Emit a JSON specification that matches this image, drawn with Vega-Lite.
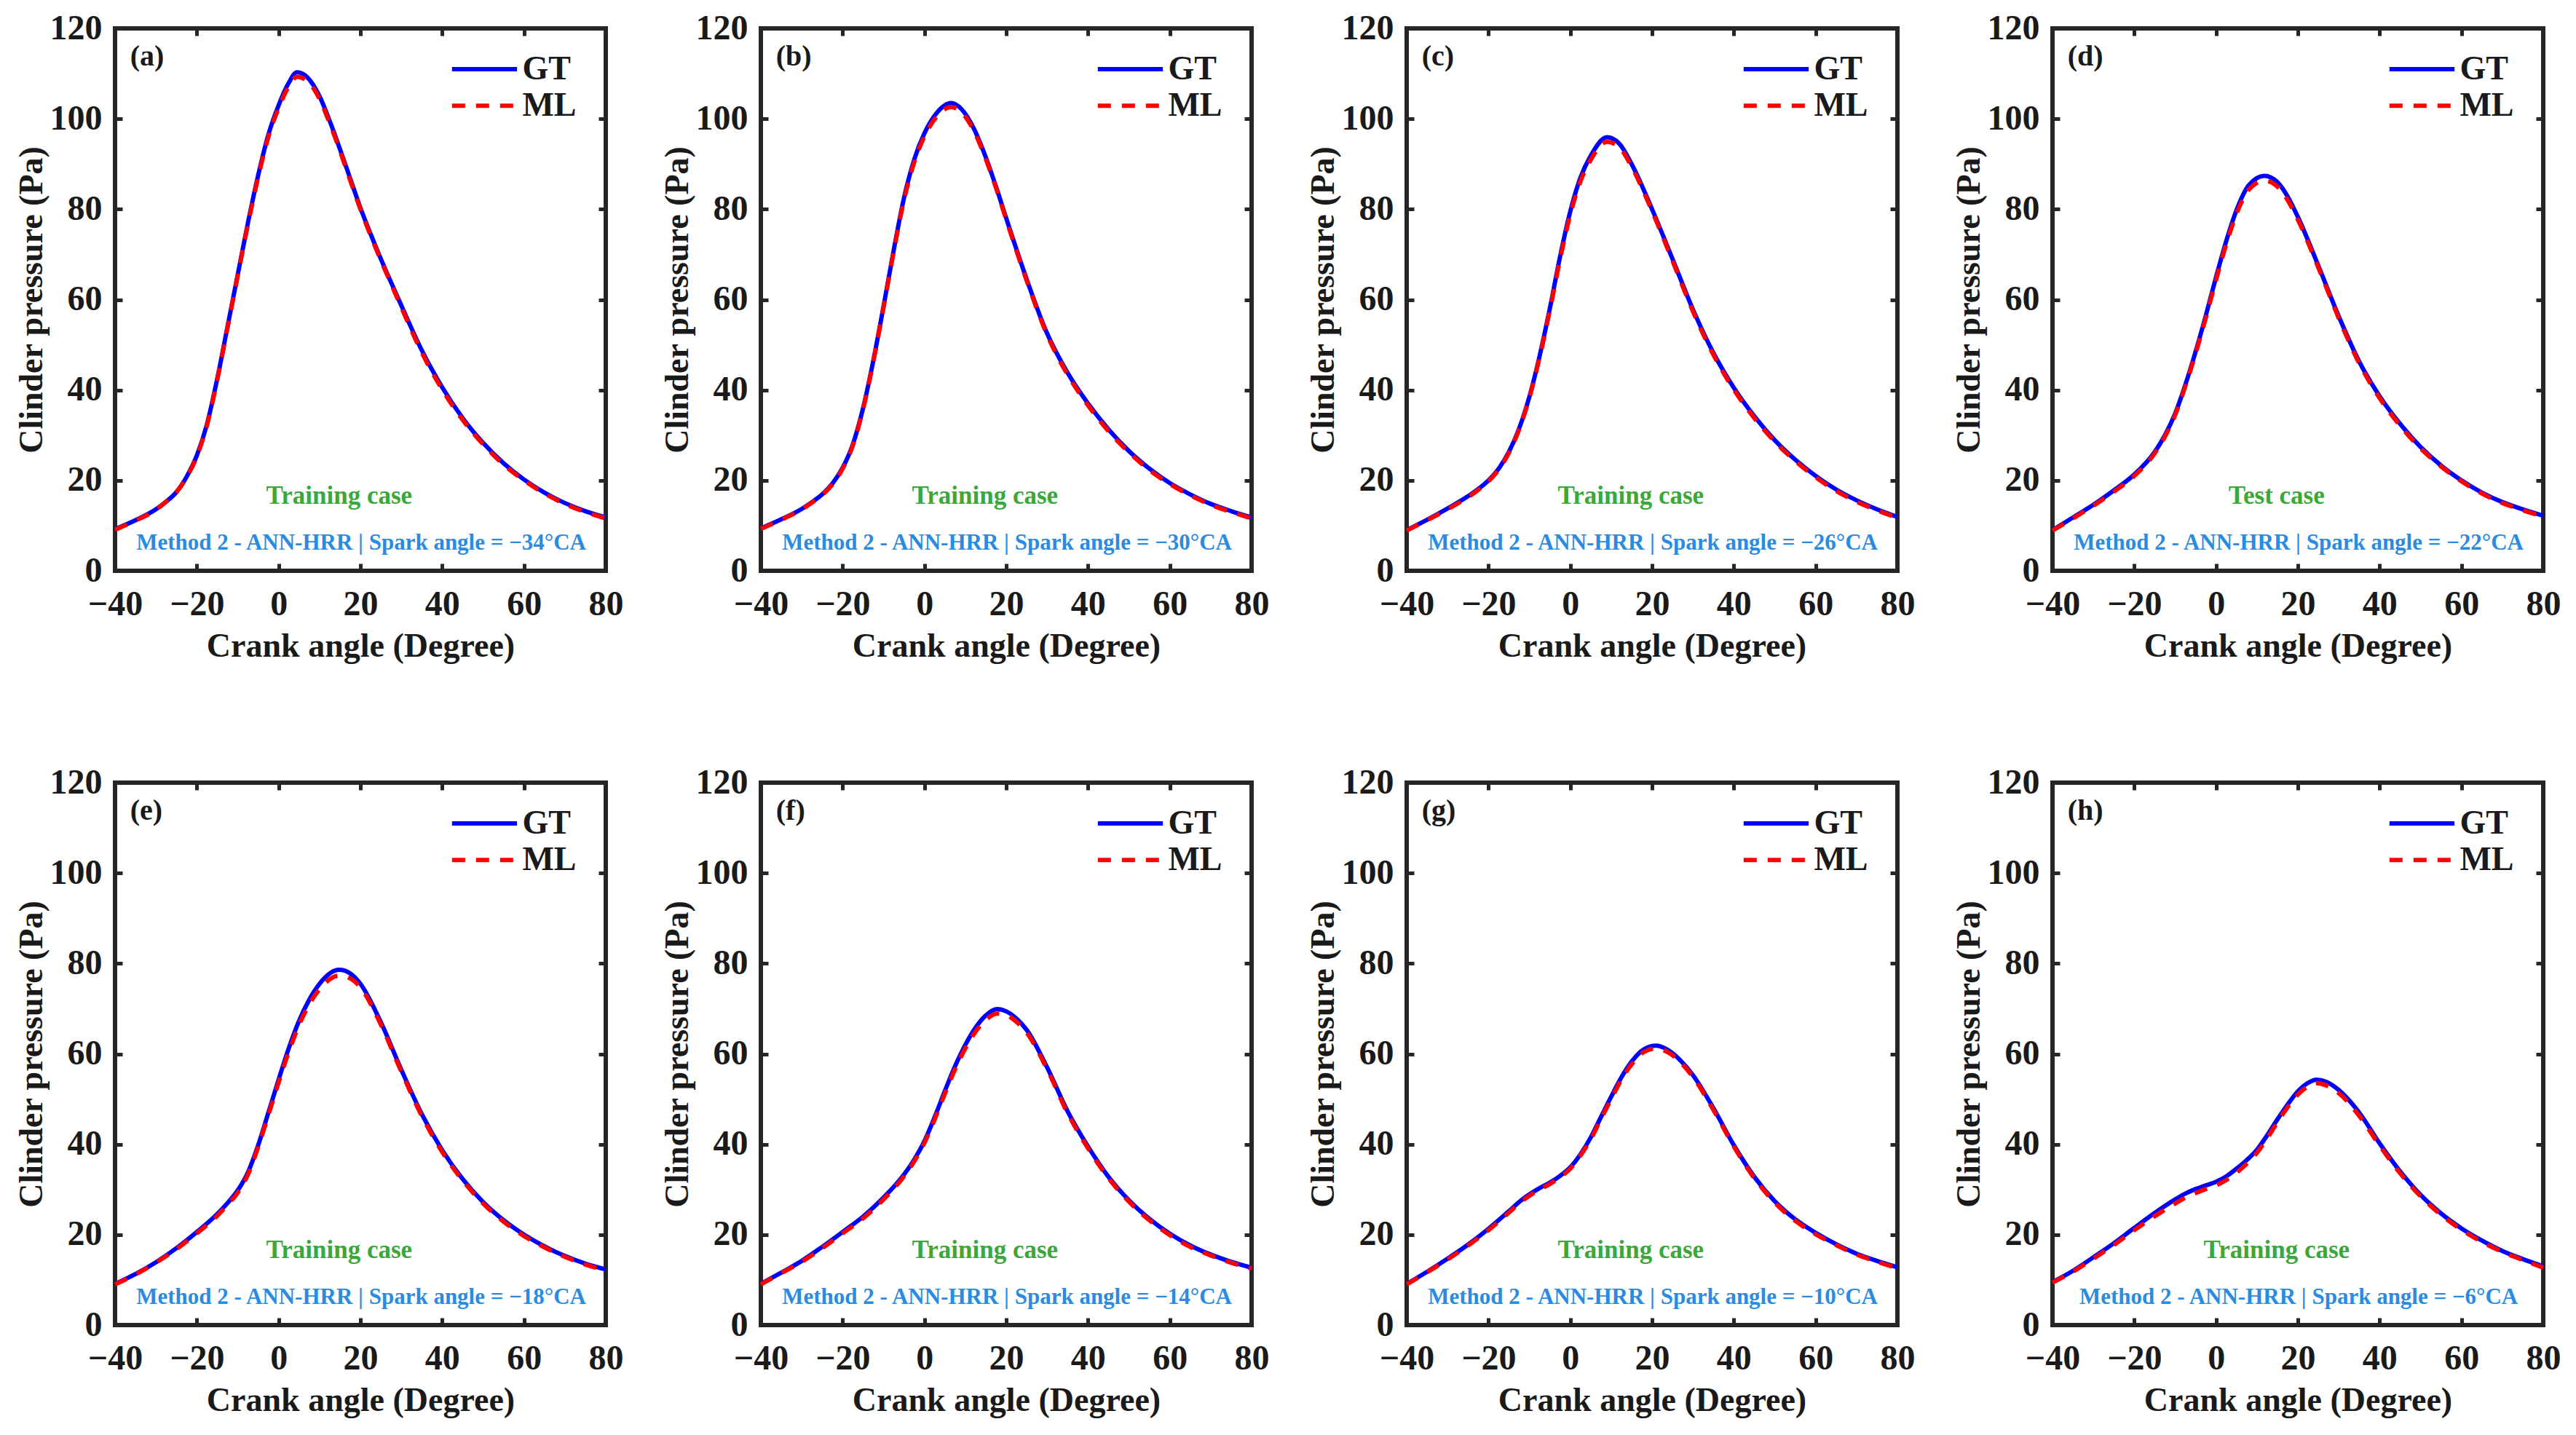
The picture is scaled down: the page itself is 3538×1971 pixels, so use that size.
{
  "$schema": "https://vega.github.io/schema/vega-lite/v6.json",
  "background": "white",
  "padding": {"left": 17, "top": 12, "right": 0, "bottom": 0},
  "data": {
    "values": [
      {"p": "a", "lab": "(a)", "kase": "Training case", "note": "Method 2 - ANN-HRR | Spark angle = −34°CA"},
      {"p": "b", "lab": "(b)", "kase": "Training case", "note": "Method 2 - ANN-HRR | Spark angle = −30°CA"},
      {"p": "c", "lab": "(c)", "kase": "Training case", "note": "Method 2 - ANN-HRR | Spark angle = −26°CA"},
      {"p": "d", "lab": "(d)", "kase": "Test case", "note": "Method 2 - ANN-HRR | Spark angle = −22°CA"},
      {"p": "e", "lab": "(e)", "kase": "Training case", "note": "Method 2 - ANN-HRR | Spark angle = −18°CA"},
      {"p": "f", "lab": "(f)", "kase": "Training case", "note": "Method 2 - ANN-HRR | Spark angle = −14°CA"},
      {"p": "g", "lab": "(g)", "kase": "Training case", "note": "Method 2 - ANN-HRR | Spark angle = −10°CA"},
      {"p": "h", "lab": "(h)", "kase": "Training case", "note": "Method 2 - ANN-HRR | Spark angle = −6°CA"},

      {"p": "a", "x": -40, "gt": 9.2, "ml": 9.1},
      {"p": "a", "x": -35, "gt": 11.2, "ml": 11.1},
      {"p": "a", "x": -30, "gt": 13.6, "ml": 13.5},
      {"p": "a", "x": -27.5, "gt": 15.3, "ml": 15.3},
      {"p": "a", "x": -25, "gt": 17.4, "ml": 17.4},
      {"p": "a", "x": -22.5, "gt": 20.8, "ml": 20.7},
      {"p": "a", "x": -20, "gt": 25.5, "ml": 25.3},
      {"p": "a", "x": -17.5, "gt": 32.5, "ml": 32.3},
      {"p": "a", "x": -15, "gt": 42.5, "ml": 42.3},
      {"p": "a", "x": -12.5, "gt": 54, "ml": 53.8},
      {"p": "a", "x": -10, "gt": 65.5, "ml": 65.3},
      {"p": "a", "x": -7.5, "gt": 77, "ml": 76.7},
      {"p": "a", "x": -5, "gt": 87.5, "ml": 87.1},
      {"p": "a", "x": -2.5, "gt": 96.5, "ml": 96},
      {"p": "a", "x": 0, "gt": 103, "ml": 102.4},
      {"p": "a", "x": 2.5, "gt": 108, "ml": 107.2},
      {"p": "a", "x": 4.5, "gt": 110.3, "ml": 109.3},
      {"p": "a", "x": 7, "gt": 109.2, "ml": 108.4},
      {"p": "a", "x": 10, "gt": 105, "ml": 104.4},
      {"p": "a", "x": 12.5, "gt": 99.5, "ml": 99},
      {"p": "a", "x": 15, "gt": 93.3, "ml": 92.9},
      {"p": "a", "x": 17.5, "gt": 86.8, "ml": 86.4},
      {"p": "a", "x": 20, "gt": 80.3, "ml": 80},
      {"p": "a", "x": 22.5, "gt": 74.5, "ml": 74.2},
      {"p": "a", "x": 25, "gt": 69, "ml": 68.7},
      {"p": "a", "x": 27.5, "gt": 63.8, "ml": 63.5},
      {"p": "a", "x": 30, "gt": 58.7, "ml": 58.3},
      {"p": "a", "x": 35, "gt": 48.8, "ml": 48.3},
      {"p": "a", "x": 40, "gt": 40.6, "ml": 40.1},
      {"p": "a", "x": 45, "gt": 33.8, "ml": 33.4},
      {"p": "a", "x": 50, "gt": 28.3, "ml": 28},
      {"p": "a", "x": 55, "gt": 23.8, "ml": 23.5},
      {"p": "a", "x": 60, "gt": 20.2, "ml": 20},
      {"p": "a", "x": 65, "gt": 17.3, "ml": 17.1},
      {"p": "a", "x": 70, "gt": 15, "ml": 14.8},
      {"p": "a", "x": 75, "gt": 13.2, "ml": 13},
      {"p": "a", "x": 80, "gt": 11.8, "ml": 11.6},

      {"p": "b", "x": -40, "gt": 9.4, "ml": 9.3},
      {"p": "b", "x": -35, "gt": 11.4, "ml": 11.3},
      {"p": "b", "x": -30, "gt": 13.7, "ml": 13.6},
      {"p": "b", "x": -27.5, "gt": 15.2, "ml": 15.1},
      {"p": "b", "x": -25, "gt": 16.9, "ml": 16.8},
      {"p": "b", "x": -22.5, "gt": 19.3, "ml": 19.1},
      {"p": "b", "x": -20, "gt": 22.8, "ml": 22.6},
      {"p": "b", "x": -17.5, "gt": 28, "ml": 27.8},
      {"p": "b", "x": -15, "gt": 36, "ml": 35.8},
      {"p": "b", "x": -12.5, "gt": 46.5, "ml": 46.3},
      {"p": "b", "x": -10, "gt": 58.5, "ml": 58.3},
      {"p": "b", "x": -7.5, "gt": 71, "ml": 70.7},
      {"p": "b", "x": -5, "gt": 82.5, "ml": 82},
      {"p": "b", "x": -2.5, "gt": 91, "ml": 90.4},
      {"p": "b", "x": 0, "gt": 96.8, "ml": 96.1},
      {"p": "b", "x": 3, "gt": 101.3, "ml": 100.5},
      {"p": "b", "x": 6.5, "gt": 103.5, "ml": 102.6},
      {"p": "b", "x": 9, "gt": 102.2, "ml": 101.5},
      {"p": "b", "x": 12, "gt": 98, "ml": 97.5},
      {"p": "b", "x": 15, "gt": 91.5, "ml": 91.1},
      {"p": "b", "x": 17.5, "gt": 85, "ml": 84.7},
      {"p": "b", "x": 20, "gt": 78, "ml": 77.7},
      {"p": "b", "x": 25, "gt": 64.5, "ml": 64.2},
      {"p": "b", "x": 30, "gt": 52.5, "ml": 52.2},
      {"p": "b", "x": 35, "gt": 43.8, "ml": 43.4},
      {"p": "b", "x": 40, "gt": 37, "ml": 36.6},
      {"p": "b", "x": 45, "gt": 31.3, "ml": 30.9},
      {"p": "b", "x": 50, "gt": 26.5, "ml": 26.2},
      {"p": "b", "x": 55, "gt": 22.6, "ml": 22.3},
      {"p": "b", "x": 60, "gt": 19.4, "ml": 19.2},
      {"p": "b", "x": 65, "gt": 16.9, "ml": 16.7},
      {"p": "b", "x": 70, "gt": 14.8, "ml": 14.6},
      {"p": "b", "x": 75, "gt": 13.2, "ml": 13},
      {"p": "b", "x": 80, "gt": 11.8, "ml": 11.6},

      {"p": "c", "x": -40, "gt": 9, "ml": 8.9},
      {"p": "c", "x": -35, "gt": 11.3, "ml": 11.2},
      {"p": "c", "x": -30, "gt": 13.8, "ml": 13.6},
      {"p": "c", "x": -25, "gt": 16.5, "ml": 16.3},
      {"p": "c", "x": -22.5, "gt": 18.1, "ml": 17.9},
      {"p": "c", "x": -20, "gt": 20, "ml": 19.8},
      {"p": "c", "x": -17.5, "gt": 22.6, "ml": 22.4},
      {"p": "c", "x": -15, "gt": 26.3, "ml": 26.1},
      {"p": "c", "x": -12.5, "gt": 31.5, "ml": 31.3},
      {"p": "c", "x": -10, "gt": 38.5, "ml": 38.3},
      {"p": "c", "x": -7.5, "gt": 47.5, "ml": 47.2},
      {"p": "c", "x": -5, "gt": 58, "ml": 57.6},
      {"p": "c", "x": -2.5, "gt": 69.5, "ml": 68.9},
      {"p": "c", "x": 0, "gt": 79.5, "ml": 78.8},
      {"p": "c", "x": 2.5, "gt": 87, "ml": 86.2},
      {"p": "c", "x": 5, "gt": 91.8, "ml": 90.9},
      {"p": "c", "x": 9, "gt": 95.9, "ml": 94.9},
      {"p": "c", "x": 12, "gt": 94.5, "ml": 93.7},
      {"p": "c", "x": 15, "gt": 90, "ml": 89.4},
      {"p": "c", "x": 20, "gt": 80, "ml": 79.6},
      {"p": "c", "x": 25, "gt": 69, "ml": 68.6},
      {"p": "c", "x": 30, "gt": 57.8, "ml": 57.4},
      {"p": "c", "x": 35, "gt": 48.2, "ml": 47.8},
      {"p": "c", "x": 40, "gt": 40.5, "ml": 40.1},
      {"p": "c", "x": 45, "gt": 34.2, "ml": 33.8},
      {"p": "c", "x": 50, "gt": 28.9, "ml": 28.6},
      {"p": "c", "x": 55, "gt": 24.6, "ml": 24.3},
      {"p": "c", "x": 60, "gt": 21, "ml": 20.7},
      {"p": "c", "x": 65, "gt": 18, "ml": 17.7},
      {"p": "c", "x": 70, "gt": 15.6, "ml": 15.3},
      {"p": "c", "x": 75, "gt": 13.6, "ml": 13.4},
      {"p": "c", "x": 80, "gt": 11.9, "ml": 11.7},

      {"p": "d", "x": -40, "gt": 9, "ml": 8.9},
      {"p": "d", "x": -35, "gt": 11.8, "ml": 11.6},
      {"p": "d", "x": -30, "gt": 14.6, "ml": 14.4},
      {"p": "d", "x": -25, "gt": 17.8, "ml": 17.5},
      {"p": "d", "x": -20, "gt": 21.3, "ml": 21},
      {"p": "d", "x": -15, "gt": 26.3, "ml": 26},
      {"p": "d", "x": -12.5, "gt": 30, "ml": 29.7},
      {"p": "d", "x": -10, "gt": 34.8, "ml": 34.5},
      {"p": "d", "x": -7.5, "gt": 41.2, "ml": 40.9},
      {"p": "d", "x": -5, "gt": 48.5, "ml": 48.1},
      {"p": "d", "x": -2.5, "gt": 56.5, "ml": 56},
      {"p": "d", "x": 0, "gt": 65, "ml": 64.4},
      {"p": "d", "x": 2.5, "gt": 73, "ml": 72.3},
      {"p": "d", "x": 5, "gt": 79.8, "ml": 79},
      {"p": "d", "x": 8, "gt": 85.3, "ml": 84.3},
      {"p": "d", "x": 11.8, "gt": 87.4, "ml": 86.3},
      {"p": "d", "x": 15, "gt": 86, "ml": 85},
      {"p": "d", "x": 17.5, "gt": 82.8, "ml": 82},
      {"p": "d", "x": 20, "gt": 78.3, "ml": 77.7},
      {"p": "d", "x": 25, "gt": 67.5, "ml": 67.1},
      {"p": "d", "x": 30, "gt": 56.3, "ml": 55.9},
      {"p": "d", "x": 35, "gt": 46.3, "ml": 45.9},
      {"p": "d", "x": 40, "gt": 38.6, "ml": 38.2},
      {"p": "d", "x": 45, "gt": 32.5, "ml": 32.1},
      {"p": "d", "x": 50, "gt": 27.4, "ml": 27.1},
      {"p": "d", "x": 55, "gt": 23.3, "ml": 23.1},
      {"p": "d", "x": 60, "gt": 20, "ml": 19.8},
      {"p": "d", "x": 65, "gt": 17.3, "ml": 17.1},
      {"p": "d", "x": 70, "gt": 15.2, "ml": 15},
      {"p": "d", "x": 75, "gt": 13.6, "ml": 13.4},
      {"p": "d", "x": 80, "gt": 12.2, "ml": 12},

      {"p": "e", "x": -40, "gt": 9.1, "ml": 9},
      {"p": "e", "x": -35, "gt": 11.3, "ml": 11.2},
      {"p": "e", "x": -30, "gt": 13.9, "ml": 13.8},
      {"p": "e", "x": -25, "gt": 17, "ml": 16.8},
      {"p": "e", "x": -20, "gt": 20.6, "ml": 20.3},
      {"p": "e", "x": -15, "gt": 24.6, "ml": 24.2},
      {"p": "e", "x": -12.5, "gt": 27, "ml": 26.6},
      {"p": "e", "x": -10, "gt": 29.8, "ml": 29.3},
      {"p": "e", "x": -7.5, "gt": 33.8, "ml": 33.3},
      {"p": "e", "x": -5, "gt": 39.8, "ml": 39.4},
      {"p": "e", "x": -2.5, "gt": 47, "ml": 46.5},
      {"p": "e", "x": 0, "gt": 54.3, "ml": 53.7},
      {"p": "e", "x": 2.5, "gt": 61.3, "ml": 60.5},
      {"p": "e", "x": 5, "gt": 67.3, "ml": 66.4},
      {"p": "e", "x": 7.5, "gt": 72, "ml": 71},
      {"p": "e", "x": 10, "gt": 75.5, "ml": 74.3},
      {"p": "e", "x": 14.8, "gt": 78.6, "ml": 77.3},
      {"p": "e", "x": 17.5, "gt": 77.8, "ml": 76.7},
      {"p": "e", "x": 20, "gt": 75.5, "ml": 74.7},
      {"p": "e", "x": 25, "gt": 67, "ml": 66.5},
      {"p": "e", "x": 30, "gt": 56.5, "ml": 56.1},
      {"p": "e", "x": 35, "gt": 46.7, "ml": 46.3},
      {"p": "e", "x": 40, "gt": 38.7, "ml": 38.3},
      {"p": "e", "x": 45, "gt": 32.3, "ml": 32},
      {"p": "e", "x": 50, "gt": 27.2, "ml": 26.9},
      {"p": "e", "x": 55, "gt": 23.2, "ml": 22.9},
      {"p": "e", "x": 60, "gt": 20, "ml": 19.7},
      {"p": "e", "x": 65, "gt": 17.4, "ml": 17.2},
      {"p": "e", "x": 70, "gt": 15.3, "ml": 15.1},
      {"p": "e", "x": 75, "gt": 13.6, "ml": 13.4},
      {"p": "e", "x": 80, "gt": 12.3, "ml": 12.1},

      {"p": "f", "x": -40, "gt": 9.1, "ml": 9},
      {"p": "f", "x": -35, "gt": 11.6, "ml": 11.5},
      {"p": "f", "x": -30, "gt": 14.2, "ml": 14},
      {"p": "f", "x": -25, "gt": 17.3, "ml": 17},
      {"p": "f", "x": -20, "gt": 20.6, "ml": 20.3},
      {"p": "f", "x": -15, "gt": 24, "ml": 23.6},
      {"p": "f", "x": -10, "gt": 28.2, "ml": 27.8},
      {"p": "f", "x": -5, "gt": 33.3, "ml": 32.9},
      {"p": "f", "x": -2.5, "gt": 36.6, "ml": 36.2},
      {"p": "f", "x": 0, "gt": 40.7, "ml": 40.3},
      {"p": "f", "x": 2.5, "gt": 46, "ml": 45.5},
      {"p": "f", "x": 5, "gt": 51.8, "ml": 51.2},
      {"p": "f", "x": 7.5, "gt": 57.3, "ml": 56.6},
      {"p": "f", "x": 10, "gt": 62, "ml": 61.2},
      {"p": "f", "x": 12.5, "gt": 65.8, "ml": 64.9},
      {"p": "f", "x": 15, "gt": 68.5, "ml": 67.5},
      {"p": "f", "x": 17.8, "gt": 69.9, "ml": 68.9},
      {"p": "f", "x": 20, "gt": 69.4, "ml": 68.6},
      {"p": "f", "x": 22.5, "gt": 67.8, "ml": 67.1},
      {"p": "f", "x": 25, "gt": 65.3, "ml": 64.7},
      {"p": "f", "x": 30, "gt": 57, "ml": 56.6},
      {"p": "f", "x": 35, "gt": 47.3, "ml": 46.9},
      {"p": "f", "x": 40, "gt": 39.5, "ml": 39.1},
      {"p": "f", "x": 45, "gt": 32.8, "ml": 32.5},
      {"p": "f", "x": 50, "gt": 27.6, "ml": 27.3},
      {"p": "f", "x": 55, "gt": 23.5, "ml": 23.2},
      {"p": "f", "x": 60, "gt": 20.2, "ml": 19.9},
      {"p": "f", "x": 65, "gt": 17.6, "ml": 17.3},
      {"p": "f", "x": 70, "gt": 15.6, "ml": 15.4},
      {"p": "f", "x": 75, "gt": 14, "ml": 13.8},
      {"p": "f", "x": 80, "gt": 12.7, "ml": 12.5},

      {"p": "g", "x": -40, "gt": 9.1, "ml": 9},
      {"p": "g", "x": -35, "gt": 11.8, "ml": 11.7},
      {"p": "g", "x": -30, "gt": 14.7, "ml": 14.5},
      {"p": "g", "x": -25, "gt": 17.8, "ml": 17.6},
      {"p": "g", "x": -20, "gt": 21.3, "ml": 21},
      {"p": "g", "x": -15, "gt": 25.2, "ml": 24.9},
      {"p": "g", "x": -12, "gt": 27.6, "ml": 27.3},
      {"p": "g", "x": -10, "gt": 28.9, "ml": 28.6},
      {"p": "g", "x": -7.5, "gt": 30.3, "ml": 30},
      {"p": "g", "x": -5, "gt": 31.5, "ml": 31.2},
      {"p": "g", "x": -2.5, "gt": 33, "ml": 32.7},
      {"p": "g", "x": 0, "gt": 34.9, "ml": 34.6},
      {"p": "g", "x": 2.5, "gt": 37.8, "ml": 37.5},
      {"p": "g", "x": 5, "gt": 41.5, "ml": 41.1},
      {"p": "g", "x": 7.5, "gt": 46, "ml": 45.6},
      {"p": "g", "x": 10, "gt": 50.5, "ml": 50},
      {"p": "g", "x": 12.5, "gt": 54.8, "ml": 54.3},
      {"p": "g", "x": 15, "gt": 58.3, "ml": 57.7},
      {"p": "g", "x": 18, "gt": 61, "ml": 60.4},
      {"p": "g", "x": 21, "gt": 61.8, "ml": 61.2},
      {"p": "g", "x": 24, "gt": 60.8, "ml": 60.3},
      {"p": "g", "x": 27, "gt": 58.5, "ml": 58.1},
      {"p": "g", "x": 30, "gt": 55.3, "ml": 54.9},
      {"p": "g", "x": 35, "gt": 48, "ml": 47.6},
      {"p": "g", "x": 40, "gt": 39.8, "ml": 39.5},
      {"p": "g", "x": 45, "gt": 32.8, "ml": 32.5},
      {"p": "g", "x": 50, "gt": 27.4, "ml": 27.1},
      {"p": "g", "x": 55, "gt": 23.4, "ml": 23.1},
      {"p": "g", "x": 60, "gt": 20.4, "ml": 20.1},
      {"p": "g", "x": 65, "gt": 17.9, "ml": 17.7},
      {"p": "g", "x": 70, "gt": 15.8, "ml": 15.6},
      {"p": "g", "x": 75, "gt": 14.2, "ml": 14},
      {"p": "g", "x": 80, "gt": 12.8, "ml": 12.6},

      {"p": "h", "x": -40, "gt": 9.5, "ml": 9.4},
      {"p": "h", "x": -35, "gt": 12, "ml": 11.8},
      {"p": "h", "x": -30, "gt": 15, "ml": 14.7},
      {"p": "h", "x": -25, "gt": 18.1, "ml": 17.7},
      {"p": "h", "x": -20, "gt": 21.5, "ml": 21},
      {"p": "h", "x": -15, "gt": 24.8, "ml": 24.1},
      {"p": "h", "x": -10, "gt": 27.8, "ml": 26.9},
      {"p": "h", "x": -7.5, "gt": 29.1, "ml": 28.2},
      {"p": "h", "x": -5, "gt": 30.1, "ml": 29.2},
      {"p": "h", "x": -2.5, "gt": 30.9, "ml": 30.1},
      {"p": "h", "x": 0, "gt": 31.7, "ml": 30.9},
      {"p": "h", "x": 2.5, "gt": 32.9, "ml": 32.1},
      {"p": "h", "x": 5, "gt": 34.6, "ml": 33.7},
      {"p": "h", "x": 7.5, "gt": 36.5, "ml": 35.7},
      {"p": "h", "x": 10, "gt": 38.8, "ml": 38.1},
      {"p": "h", "x": 12.5, "gt": 42, "ml": 41.3},
      {"p": "h", "x": 15, "gt": 45.5, "ml": 44.9},
      {"p": "h", "x": 17.5, "gt": 48.8, "ml": 48.2},
      {"p": "h", "x": 20, "gt": 51.7, "ml": 51},
      {"p": "h", "x": 22.5, "gt": 53.6, "ml": 52.8},
      {"p": "h", "x": 24.5, "gt": 54.3, "ml": 53.5},
      {"p": "h", "x": 27, "gt": 53.8, "ml": 53},
      {"p": "h", "x": 30, "gt": 52, "ml": 51.3},
      {"p": "h", "x": 35, "gt": 47, "ml": 46.3},
      {"p": "h", "x": 40, "gt": 40.2, "ml": 39.7},
      {"p": "h", "x": 45, "gt": 34, "ml": 33.6},
      {"p": "h", "x": 50, "gt": 28.8, "ml": 28.5},
      {"p": "h", "x": 55, "gt": 24.7, "ml": 24.4},
      {"p": "h", "x": 60, "gt": 21.4, "ml": 21.1},
      {"p": "h", "x": 65, "gt": 18.7, "ml": 18.4},
      {"p": "h", "x": 70, "gt": 16.4, "ml": 16.2},
      {"p": "h", "x": 75, "gt": 14.6, "ml": 14.4},
      {"p": "h", "x": 80, "gt": 13, "ml": 12.7}
    ]
  },
  "facet": {
    "field": "p",
    "type": "nominal",
    "title": null,
    "header": {
      "title": null,
      "labels": false,
      "labelOrient": "bottom",
      "labelColor": "white",
      "labelFontSize": 1,
      "labelPadding": 0,
      "titlePadding": 0
    }
  },
  "columns": 4,
  "spacing": {"row": 291, "column": 213},
  "bounds": "flush",
  "resolve": {"axis": {"x": "independent", "y": "independent"}},
  "spec": {
    "width": 674,
    "height": 745,
    "resolve": {"axis": {"x": "independent", "y": "independent"}},
    "layer": [
      {
        "transform": [{"filter": "isValid(datum.gt)"}],
        "mark": {"type": "line", "color": "#0000ff", "strokeWidth": 6, "interpolate": "monotone"},
        "encoding": {
          "x": {
            "field": "x",
            "type": "quantitative",
            "scale": {"domain": [-40, 80], "nice": false, "zero": false},
            "axis": {
              "orient": "bottom",
              "values": [-40, -20, 0, 20, 40, 60, 80],
              "title": "Crank angle (Degree)",
              "labelPadding": 32,
              "titlePadding": 11
            }
          },
          "y": {
            "field": "gt",
            "type": "quantitative",
            "scale": {"domain": [0, 120], "nice": false},
            "axis": {
              "orient": "left",
              "values": [0, 20, 40, 60, 80, 100, 120],
              "title": "Clinder pressure (Pa)",
              "labelPadding": 28,
              "titlePadding": 1
            }
          }
        }
      },
      {
        "transform": [{"filter": "isValid(datum.ml)"}],
        "mark": {"type": "line", "color": "#ff0000", "strokeWidth": 6, "strokeDash": [18, 15], "interpolate": "monotone"},
        "encoding": {
          "x": {
            "field": "x",
            "type": "quantitative",
            "axis": {"orient": "top", "values": [-40, -20, 0, 20, 40, 60, 80], "labels": false, "title": null}
          },
          "y": {
            "field": "ml",
            "type": "quantitative",
            "axis": {"orient": "right", "values": [0, 20, 40, 60, 80, 100, 120], "labels": false, "title": null}
          }
        }
      },
      {
        "transform": [{"filter": "isValid(datum.lab)"}],
        "mark": {"type": "rule", "color": "#0000ff", "strokeWidth": 6},
        "encoding": {
          "x": {"datum": 42.4, "type": "quantitative", "axis": null},
          "x2": {"datum": 58.3},
          "y": {"datum": 111, "type": "quantitative", "axis": null}
        }
      },
      {
        "transform": [{"filter": "isValid(datum.lab)"}],
        "mark": {"type": "rule", "color": "#ff0000", "strokeWidth": 6, "strokeDash": [18, 15]},
        "encoding": {
          "x": {"datum": 42.4, "type": "quantitative", "axis": null},
          "x2": {"datum": 58.3},
          "y": {"datum": 102.9, "type": "quantitative", "axis": null}
        }
      },
      {
        "transform": [{"filter": "isValid(datum.lab)"}],
        "mark": {"type": "text", "text": "GT", "align": "left", "baseline": "middle", "font": "Liberation Serif", "fontWeight": "bold", "fontSize": 46, "color": "#1a1a1a"},
        "encoding": {
          "x": {"datum": 59.6, "type": "quantitative", "axis": null},
          "y": {"datum": 111, "type": "quantitative", "axis": null}
        }
      },
      {
        "transform": [{"filter": "isValid(datum.lab)"}],
        "mark": {"type": "text", "text": "ML", "align": "left", "baseline": "middle", "font": "Liberation Serif", "fontWeight": "bold", "fontSize": 46, "color": "#1a1a1a"},
        "encoding": {
          "x": {"datum": 59.6, "type": "quantitative", "axis": null},
          "y": {"datum": 102.9, "type": "quantitative", "axis": null}
        }
      },
      {
        "transform": [{"filter": "isValid(datum.lab)"}],
        "mark": {"type": "text", "align": "left", "baseline": "middle", "font": "Liberation Serif", "fontWeight": "bold", "fontSize": 40, "color": "#1a1a1a"},
        "encoding": {
          "x": {"datum": -36.3, "type": "quantitative", "axis": null},
          "y": {"datum": 113.7, "type": "quantitative", "axis": null},
          "text": {"field": "lab"}
        }
      },
      {
        "transform": [{"filter": "isValid(datum.lab)"}],
        "mark": {"type": "text", "align": "center", "baseline": "middle", "font": "Liberation Serif", "fontWeight": "bold", "fontSize": 35, "color": "#3aa83a"},
        "encoding": {
          "x": {"datum": 14.8, "type": "quantitative", "axis": null},
          "y": {"datum": 16.6, "type": "quantitative", "axis": null},
          "text": {"field": "kase"}
        }
      },
      {
        "transform": [{"filter": "isValid(datum.lab)"}],
        "mark": {"type": "text", "align": "center", "baseline": "middle", "font": "Liberation Serif", "fontWeight": "bold", "fontSize": 31, "color": "#2b8be0"},
        "encoding": {
          "x": {"datum": 20.2, "type": "quantitative", "axis": null},
          "y": {"datum": 6.1, "type": "quantitative", "axis": null},
          "text": {"field": "note"}
        }
      }
    ]
  },
  "config": {
    "view": {"stroke": "#262626", "strokeWidth": 6},
    "header": {"labels": false, "title": null},
    "headerFacet": {"labels": false, "title": null},
    "axis": {
      "domain": false,
      "grid": false,
      "ticks": true,
      "tickSize": -10,
      "tickWidth": 5,
      "tickColor": "#262626",
      "labelFlush": false,
      "labelOverlap": false,
      "labelFont": "Liberation Serif",
      "labelFontSize": 48,
      "labelFontWeight": "bold",
      "labelColor": "#1a1a1a",
      "titleFont": "Liberation Serif",
      "titleFontSize": 46,
      "titleFontWeight": "bold",
      "titleColor": "#1a1a1a"
    }
  }
}
